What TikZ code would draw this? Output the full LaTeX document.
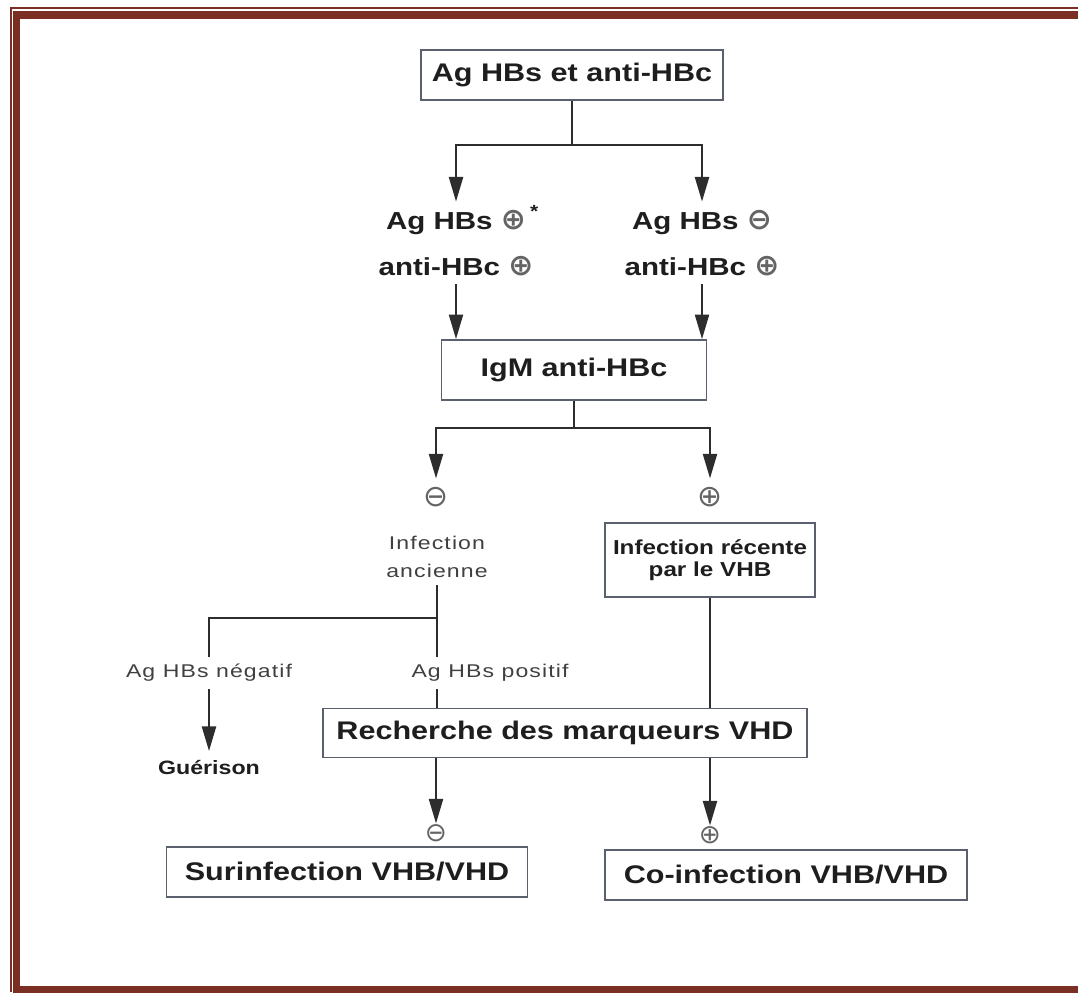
\documentclass[tikz,border=0pt]{standalone}
\usepackage{fontspec}
\setmainfont{Liberation Sans}[FakeStretch=1.2]
\newfontfamily\etiqfont{Liberation Sans}[FakeStretch=1.25, LetterSpace=6]
\newfontfamily\signefont{DejaVu Sans}
\usetikzlibrary{arrows.meta}

\definecolor{cadre}{RGB}{122,46,36}
\definecolor{gristrait}{RGB}{45,45,45}
\definecolor{bordure}{RGB}{90,96,110}
\definecolor{grissigne}{RGB}{100,100,100}
\definecolor{texte}{RGB}{30,30,30}

\newcommand{\sgnplus}{{\signefont\fontsize{17}{17}\selectfont\color{grissigne}⊕}}
\newcommand{\sgnmoins}{{\signefont\fontsize{17}{17}\selectfont\color{grissigne}⊖}}

\begin{document}
\begin{tikzpicture}[x=0.02cm, y=-0.02cm, >={Triangle[length=14pt,width=8pt]},
    % Styles des boites et des textes
    boite/.style={
        draw=bordure, line width=1pt, fill=white, text=texte,
        font=\fontsize{14.5}{17}\selectfont\bfseries, inner sep=2pt
    },
    resultat/.style={
        text=texte, font=\fontsize{14}{26}\selectfont\bfseries,
        align=center, inner sep=1pt, outer sep=4pt
    },
    etiq/.style={
        text=black!75, font=\etiqfont\fontsize{10.5}{16}\selectfont,
        align=center, inner sep=1pt, outer sep=3pt
    },
    signe/.style={
        font=\signefont\fontsize{17}{17}\selectfont, text=grissigne,
        inner sep=0pt, outer sep=5pt
    },
    trait/.style={draw=gristrait, line width=1.2pt},
    fleche/.style={trait, ->}
]

% =============================================
% CADRE
% =============================================
\useasboundingbox (0,0) rectangle (1078,992);
\draw[cadre, line width=1.1pt] (1078,8) -- (11,8) -- (11,992);
\draw[cadre, line width=4pt] (1078,15) -- (16.5,15) -- (16.5,989) -- (1078,989);

% =============================================
% NOEUDS
% =============================================

% Depart
\node[boite, minimum width=6.04cm, minimum height=1cm] (depart) at (572,75)
    {Ag HBs et anti-HBc};
\coordinate (j1) at (572,145);

% Resultats des deux marqueurs
\node[resultat] (agpos) at (456,243)
    {Ag HBs \sgnplus\rlap{\,\smash{\raisebox{0.5em}{\fontsize{10}{10}\selectfont *}}}\\anti-HBc \sgnplus};
\node[resultat] (agneg) at (702,243)
    {Ag HBs \sgnmoins\\anti-HBc \sgnplus};

% IgM
\node[boite, minimum width=5.3cm, minimum height=1.2cm] (igm) at (574,370)
    {IgM anti-HBc};
\coordinate (j2) at (574,428);
\node[signe] (igmneg) at (436,497) {⊖};
\node[signe] (igmpos) at (710,497) {⊕};

% Infection ancienne / recente
\node[etiq] (ancienne) at (437,557) {Infection\\ancienne};
\node[boite, font=\fontsize{11.5}{12.5}\selectfont\bfseries, align=center,
    minimum width=4.2cm, minimum height=1.48cm] (recente) at (710,560)
    {Infection récente\\par le VHB};
\coordinate (j3) at (437,618);

% Ag HBs negatif / positif
\node[etiq] (agnegatif) at (209,673) {Ag HBs négatif};
\node[etiq] (agpositif) at (490,673) {Ag HBs positif};
\node[resultat, font=\fontsize{11}{13}\selectfont\bfseries] (guerison) at (209,767)
    {Guérison};

% Marqueurs VHD
\node[boite, minimum width=9.68cm, minimum height=0.98cm] (recherche) at (565,733)
    {Recherche des marqueurs VHD};
\node[signe, font=\signefont\fontsize{15}{15}\selectfont, outer sep=0.5pt] (vhdneg) at (436,833) {⊖};
\node[signe, font=\signefont\fontsize{15}{15}\selectfont, outer sep=0.5pt] (vhdpos) at (710,835) {⊕};

% Conclusions
\node[boite, minimum width=7.22cm, minimum height=1cm] (surinf) at (347,872)
    {Surinfection VHB/VHD};
\node[boite, minimum width=7.24cm, minimum height=1cm] (coinf) at (786,875)
    {Co-infection VHB/VHD};

% =============================================
% CONNEXIONS
% =============================================
\draw[trait] (depart.south) -- (j1);
\draw[fleche] (j1) -| (agpos.north);
\draw[fleche] (j1) -| (agneg.north);
\draw[fleche] (agpos.south) -- (agpos.south |- igm.north);
\draw[fleche] (agneg.south) -- (agneg.south |- igm.north);

\draw[trait] (igm.south) -- (j2);
\draw[fleche] (j2) -| (igmneg.north);
\draw[fleche] (j2) -| (igmpos.north);

\draw[trait] (ancienne.south) -- (ancienne.south |- agpositif.north);
\draw[trait] (j3) -| (agnegatif.north);
\draw[fleche] (agnegatif.south) -- (guerison.north);
\draw[trait] (ancienne.south |- agpositif.south) -- (ancienne.south |- recherche.north);
\draw[trait] (recente.south) -- (recente.south |- recherche.north);

\draw[fleche] (recherche.south -| vhdneg) -- (vhdneg.north);
\draw[fleche] (recherche.south -| vhdpos) -- (vhdpos.north);

\end{tikzpicture}
\end{document}
